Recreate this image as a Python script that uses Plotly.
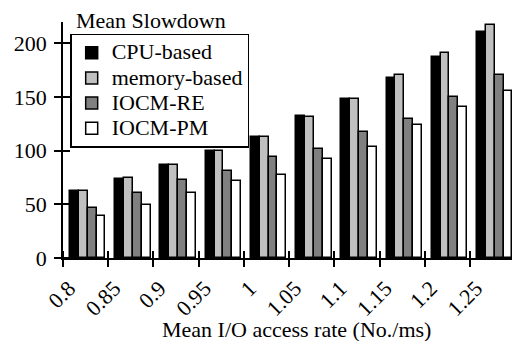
import plotly.graph_objects as go

categories = ["0.8", "0.85", "0.9", "0.95", "1", "1.05", "1.1", "1.15", "1.2", "1.25"]
cpu_based = [62, 74, 87, 100, 113, 132, 148, 168, 187, 211]
memory_based = [62, 75, 87, 100, 113, 131.5, 148, 171, 191.5, 217.5]
iocm_re = [47, 60.5, 73, 81, 94, 101.5, 117, 129.5, 150.5, 171]
iocm_pm = [39.5, 49, 60.5, 71.5, 77, 92, 103.5, 124, 141, 155.5]
y_ticks = [0, 50, 100, 150, 200]

series = [
    ("CPU-based", cpu_based, "#000000"),
    ("memory-based", memory_based, "#c0c0c0"),
    ("IOCM-RE", iocm_re, "#808080"),
    ("IOCM-PM", iocm_pm, "#ffffff"),
]

FONT = "Liberation Serif"
FS = 22

W, H = 512, 341
ML, MT, MB, MR = 63, 22, 83, 0
plot_w = W - ML - MR

xpos = list(range(len(categories)))
bw = 0.196
start = -0.345

fig = go.Figure()
for k, (name, vals, color) in enumerate(series):
    fig.add_trace(go.Bar(
        x=xpos, y=vals,
        name='<span style="font-size:22px">%s</span>' % name,
        width=bw, offset=start + k * bw,
        marker=dict(color=color, line=dict(color="#000000", width=1.5)),
    ))

bounds = [i - 0.5 for i in xpos]

fig.update_layout(
    width=W, height=H,
    margin=dict(l=ML, r=MR, t=MT, b=MB, autoexpand=False),
    plot_bgcolor="white", paper_bgcolor="white",
    font=dict(family=FONT, size=FS, color="black"),
    showlegend=True,
    legend=dict(
        x=0.016, y=0.95, xanchor="left", yanchor="top",
        bordercolor="black", borderwidth=1.5,
        bgcolor="white",
        font=dict(family=FONT, size=17, color="black"),
        tracegroupgap=0,
    ),
    bargap=0,
    xaxis=dict(
        range=[-0.5, 9.43], automargin=False,
        tickmode="array", tickvals=bounds, ticktext=categories,
        tickangle=-45, ticks="outside", ticklen=7, tickwidth=1.5, tickcolor="black",
        ticklabelshift=6,
        showline=True, linecolor="black", linewidth=1.8,
        showgrid=False, zeroline=False,
        minor=dict(tickmode="array", tickvals=bounds, ticks="inside",
                   ticklen=7, tickwidth=1.5, tickcolor="black", showgrid=False),
        tickfont=dict(family=FONT, size=FS),
    ),
    yaxis=dict(
        range=[0, 220], automargin=False,
        tickmode="array", tickvals=y_ticks,
        ticks="outside", ticklen=7, tickwidth=1.5, tickcolor="black",
        ticklabelstandoff=3,
        showline=True, linecolor="black", linewidth=1.8,
        showgrid=False, zeroline=False,
        minor=dict(tickmode="array", tickvals=y_ticks, ticks="inside",
                   ticklen=7, tickwidth=1.5, tickcolor="black", showgrid=False),
        tickfont=dict(family=FONT, size=FS),
    ),
    annotations=[
        dict(text="Mean Slowdown", xref="paper", yref="paper",
             x=11 / plot_w, y=1, xanchor="left", yanchor="middle", yshift=2,
             showarrow=False, font=dict(family=FONT, size=FS, color="black")),
        dict(text="Mean I/O access rate (No./ms)", xref="paper", yref="paper",
             x=(296 - 63) / plot_w, y=0, xanchor="center", yanchor="middle", yshift=-71,
             showarrow=False, font=dict(family=FONT, size=FS, color="black")),
    ],
)

fig.write_html(
    "out.html",
    config={"displayModeBar": False},
    post_script="document.body.style.margin='0';document.body.style.overflow='hidden';",
)
